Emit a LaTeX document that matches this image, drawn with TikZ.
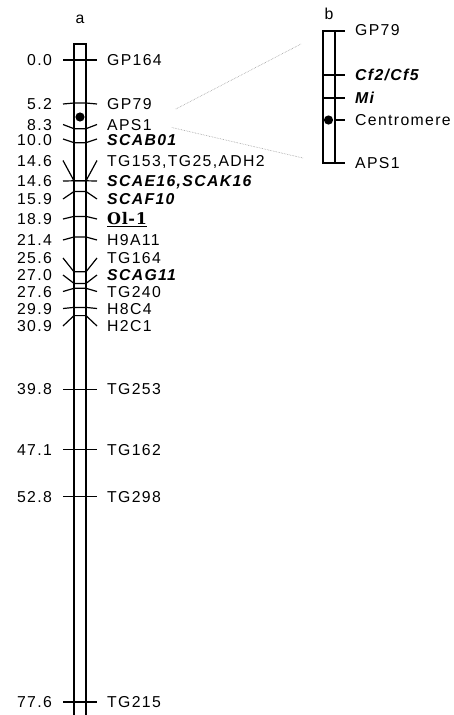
\documentclass[tikz,border=0pt]{standalone}
\usepackage{fontspec}
\setmainfont{Liberation Sans}[LetterSpace=8.5]
\newfontfamily\olfont{DejaVu Serif}[LetterSpace=4]
\usetikzlibrary{positioning}
\tikzset{
  pos label/.style={
    anchor=east, inner sep=0pt, text height=11pt, text depth=0pt,
    font=\fontsize{15.8}{18}\selectfont
  },
  marker label/.style={
    anchor=west, inner sep=0pt, text height=11pt, text depth=0pt,
    font=\fontsize{15.8}{18}\selectfont
  },
  scar label/.style={marker label, font=\fontsize{15.8}{18}\selectfont\bfseries\itshape},
  chrom line/.style={line width=1.2pt, line join=miter},
  zoom line/.style={densely dotted, black!40, line width=0.6pt}
}

\begin{document}
\begin{tikzpicture}[x=1pt, y=-1pt]
    \useasboundingbox (0,0) rectangle (453,715);
    % chromosome a
    \node[font=\fontsize{15.8}{18}\selectfont, inner sep=0pt] (titleA) at (80,19) {a};
    \draw[chrom line] (74,716) -- (74,44) -- (86,44) -- (86,716);
    \fill (80,117) circle (4.6pt);
    % ticks: label height -> map position -> label height
    \draw[chrom line] (63,60) -- (74,60) -- (86,60) -- (97,60);
    \draw[chrom line] (63,104) -- (74,103) -- (86,103) -- (97,104);
    \draw[chrom line] (63,124.5) -- (74,128.7) -- (86,128.7) -- (97,124.5);
    \draw[chrom line] (63,139) -- (74,142.7) -- (86,142.7) -- (97,139);
    \draw[chrom line] (63,160.5) -- (74,180.8) -- (86,180.8) -- (97,160.5);
    \draw[chrom line] (63,181) -- (74,180.8) -- (86,180.8) -- (97,181);
    \draw[chrom line] (63,199) -- (74,191.5) -- (86,191.5) -- (97,199);
    \draw[chrom line] (63,219) -- (74,216.4) -- (86,216.4) -- (97,219);
    \draw[chrom line] (63,240) -- (74,237) -- (86,237) -- (97,240);
    \draw[chrom line] (63,258) -- (74,271.8) -- (86,271.8) -- (97,258);
    \draw[chrom line] (63,275) -- (74,283.4) -- (86,283.4) -- (97,275);
    \draw[chrom line] (63,291.5) -- (74,288.3) -- (86,288.3) -- (97,291.5);
    \draw[chrom line] (63,308.5) -- (74,307.4) -- (86,307.4) -- (97,308.5);
    \draw[chrom line] (63,326) -- (74,315.6) -- (86,315.6) -- (97,326);
    \draw[chrom line] (63,389.3) -- (97,389.3);
    \draw[chrom line] (63,449.7) -- (97,449.7);
    \draw[chrom line] (63,496.8) -- (97,496.8);
    \draw[chrom line] (63,702) -- (97,702);
    % map distances
    \node[pos label] (p00) at (52,60) {0.0};
    \node[pos label] (p52) at (52,104) {5.2};
    \node[pos label] (p83) at (52,124.5) {8.3};
    \node[pos label] (p100) at (52,140) {10.0};
    \node[pos label] (p146a) at (52,160.5) {14.6};
    \node[pos label] (p146b) at (52,181) {14.6};
    \node[pos label] (p159) at (52,199) {15.9};
    \node[pos label] (p189) at (52,219) {18.9};
    \node[pos label] (p214) at (52,240) {21.4};
    \node[pos label] (p256) at (52,258) {25.6};
    \node[pos label] (p270) at (52,275) {27.0};
    \node[pos label] (p276) at (52,291.5) {27.6};
    \node[pos label] (p299) at (52,308.5) {29.9};
    \node[pos label] (p309) at (52,326) {30.9};
    \node[pos label] (p398) at (52,389.3) {39.8};
    \node[pos label] (p471) at (52,449.7) {47.1};
    \node[pos label] (p528) at (52,496.8) {52.8};
    \node[pos label] (p776) at (52,702) {77.6};
    % marker names
    \node[marker label] (gp164) at (107,60) {GP164};
    \node[marker label] (gp79) at (107,104) {GP79};
    \node[marker label] (aps1) at (107,124.5) {APS1};
    \node[scar label] (scab01) at (107,140) {SCAB01};
    \node[marker label] (tg153) at (107,160.5) {TG153,TG25,ADH2};
    \node[scar label] (scae16) at (107,181) {SCAE16,SCAK16};
    \node[scar label] (scaf10) at (107,199) {SCAF10};
    \node[marker label, font=\fontsize{16}{18}\olfont\bfseries] (ol1) at (107,219) {\underline{Ol-1}};
    \node[marker label] (h9a11) at (107,240) {H9A11};
    \node[marker label] (tg164) at (107,258) {TG164};
    \node[scar label] (scag11) at (107,275) {SCAG11};
    \node[marker label] (tg240) at (107,291.5) {TG240};
    \node[marker label] (h8c4) at (107,308.5) {H8C4};
    \node[marker label] (h2c1) at (107,326) {H2C1};
    \node[marker label] (tg253) at (107,389.3) {TG253};
    \node[marker label] (tg162) at (107,449.7) {TG162};
    \node[marker label] (tg298) at (107,496.8) {TG298};
    \node[marker label] (tg215) at (107,702) {TG215};
    % chromosome b
    \node[font=\fontsize{15.8}{18}\selectfont, inner sep=0pt] (titleB) at (329,14) {b};
    \draw[chrom line] (323,31) rectangle (335,163);
    \draw[chrom line] (335,31) -- (345,31);
    \draw[chrom line] (323,75) -- (345,75);
    \draw[chrom line] (323,98) -- (345,98);
    \draw[chrom line] (335,120) -- (345,120);
    \draw[chrom line] (335,163) -- (345,163);
    \fill (328.5,120) circle (4.6pt);
    \node[marker label] (bgp79) at (355,30) {GP79};
    \node[scar label] (cf) at (355,75) {Cf2/Cf5};
    \node[scar label] (mi) at (355,98) {Mi};
    \node[marker label] (cen) at (355,120) {Centromere};
    \node[marker label] (baps1) at (355,163) {APS1};
    % zoomed segment
    \coordinate (zoomTop) at (301,44);
    \coordinate (zoomBot) at (303,158);
    \draw[zoom line] ([xshift=24pt,yshift=-5pt]gp79.east) -- (zoomTop);
    \draw[zoom line] ([xshift=20pt,yshift=-3pt]aps1.east) -- (zoomBot);
\end{tikzpicture}
\end{document}
